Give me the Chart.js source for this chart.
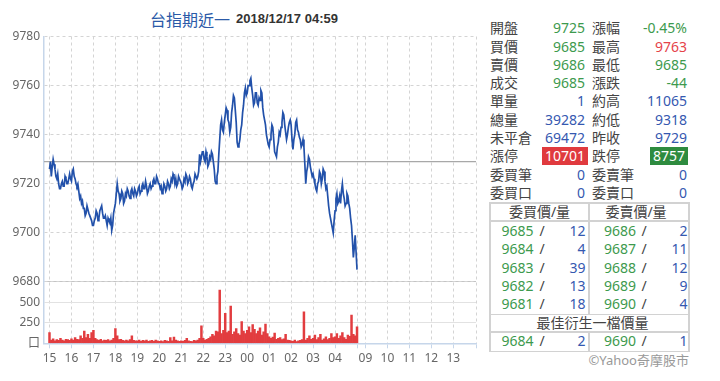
<!DOCTYPE html>
<html><head><meta charset="utf-8">
<script src="https://cdn.jsdelivr.net/npm/chart.js@4/dist/chart.umd.min.js"></script>
<style>
body{margin:0;background:#fff;width:720px;height:381px;overflow:hidden;position:relative;font-family:"Noto Sans","Noto Sans CJK TC",sans-serif;}
#wrap{position:absolute;left:0;top:0;width:480px;height:381px;}
.t{position:absolute;white-space:nowrap;height:18px;line-height:18px;font-size:14px;}
.lab{color:#444;}
.g{color:#3d9a4e;}
.b{color:#3558b0;}
.r{color:#e5434a;}
.box{display:inline-block;color:#fff;padding:0 3px;line-height:18px;height:18px;}
.ln{position:absolute;background:#d2d2d2;}
</style></head>
<body>
<div class="t" style="left:150px;top:8px;height:22px;line-height:22px;font-size:16px;color:#2b5aa8;font-family:'Noto Sans CJK TC',sans-serif;">台指期近一</div>
<div class="t" style="left:236px;top:9px;height:20px;line-height:20px;font-size:13px;color:#333;font-weight:bold;font-family:'Liberation Sans',Arial,sans-serif;">2018/12/17 04:59</div>
<div id="wrap"><canvas id="c" width="480" height="381"></canvas></div>
<div id="panel"></div>
<script>
// ---- data ----
const stepMinutes = 2.5;
const prevClose = 9729;
const price = [
 9726,9729,9723,9727,9730,9728,9726,9723,9722,9724,9720,9718,9718,9720,9721,9719,9719,9723,9722,9720,9720,9722,9724,9722,
 9721,9725,9726,9723,9722,9720,9719,9720,9717,9714,9715,9712,9713,9710,9710,9707,9708,9711,9711,9708,9707,9706,9705,9703,
 9703,9705,9706,9709,9708,9705,9706,9709,9710,9711,9708,9706,9706,9707,9705,9703,9706,9705,9704,9706,9701,9703,9708,9710,
 9712,9716,9720,9717,9716,9713,9714,9717,9716,9712,9713,9716,9715,9718,9717,9715,9714,9717,9718,9716,9715,9718,9717,9715,
 9716,9718,9719,9716,9717,9719,9720,9718,9718,9721,9719,9716,9717,9719,9720,9718,9719,9721,9722,9720,9720,9723,9722,9720,
 9720,9718,9719,9716,9717,9720,9719,9717,9718,9721,9720,9718,9719,9722,9721,9724,9723,9720,9722,9719,9720,9723,9722,9721,
 9720,9718,9719,9722,9721,9724,9723,9720,9721,9723,9722,9719,9718,9720,9721,9724,9724,9722,9723,9725,9732,9729,9731,9733,
 9733,9730,9729,9733,9731,9727,9728,9731,9730,9733,9732,9729,9726,9721,9720,9723,9725,9732,9738,9744,9746,9742,9741,9745,
 9748,9751,9750,9746,9745,9741,9743,9749,9752,9756,9755,9750,9745,9737,9735,9736,9738,9742,9744,9749,9752,9757,9759,9756,
 9757,9760,9760,9762,9763,9759,9756,9752,9753,9757,9757,9753,9752,9755,9754,9758,9757,9751,9748,9746,9744,9740,9738,9736,
 9735,9738,9740,9744,9743,9738,9733,9732,9731,9735,9737,9741,9740,9743,9745,9749,9748,9744,9741,9738,9740,9743,9745,9746,
 9744,9738,9734,9738,9740,9745,9746,9742,9741,9739,9738,9735,9736,9738,9735,9728,9720,9725,9727,9731,9730,9727,9725,9723,
 9724,9722,9720,9718,9717,9720,9721,9725,9724,9720,9722,9726,9725,9721,9718,9719,9715,9711,9708,9706,9704,9702,9700,9705,
 9709,9714,9716,9712,9713,9715,9712,9717,9720,9716,9714,9711,9712,9716,9715,9712,9710,9706,9703,9697,9690,9694,9699,9692,
 9685
];
const volStepMinutes = 5;
const volume = [
 130,40,55,30,45,35,60,40,30,50,45,35,
 55,40,70,50,45,90,60,150,70,110,60,130,
 160,60,45,35,50,30,40,35,45,30,40,60,
 180,90,45,50,35,30,40,30,45,90,35,30,
 30,40,25,35,30,40,25,30,35,25,40,30,
 25,30,20,35,30,25,70,30,75,40,30,25,
 30,25,35,60,30,25,20,35,30,40,60,215,
 60,40,50,60,80,110,90,150,140,650,120,160,
 365,130,150,455,110,140,180,120,100,265,150,120,
 160,200,130,230,170,120,150,190,100,140,235,120,
 80,60,75,125,50,60,70,45,55,110,40,35,
 30,25,40,20,30,35,45,385,40,60,90,50,
 60,100,45,70,110,40,55,80,45,60,120,70,
 80,120,60,90,130,70,50,100,85,345,110,90,
 200
];
const xTickVals = [0,60,120,180,240,300,360,420,480,540,600,660,720,780,840,863,923,983,1043,1103,1165];
const xTickLabels = ['15','16','17','18','19','20','21','22','23','00','01','02','03','04','','09','10','11','12','13',''];
const xMin = -15, xMax = 1165;
const priceTicks = {min:9680, max:9780, step:20};
const volTicks = {min:0, max:750, step:250};

const infoRows = [
 ['開盤','9725','g','漲幅','-0.45%','g'],
 ['買價','9685','g','最高','9763','r'],
 ['賣價','9686','g','最低','9685','g'],
 ['成交','9685','g','漲跌','-44','g'],
 ['單量','1','b','約高','11065','b'],
 ['總量','39282','b','約低','9318','b'],
 ['未平倉','69472','b','昨收','9729','b'],
 ['漲停','10701','boxr','跌停','8757','boxg'],
 ['委買筆','0','b','委賣筆','0','b'],
 ['委買口','0','b','委賣口','0','b']
];
const bidPrices = [9685,9684,9683,9682,9681];
const bidQty = [12,4,39,13,18];
const askPrices = [9686,9687,9688,9689,9690];
const askQty = [2,11,12,9,4];
const bestBid = [9684,2];
const bestAsk = [9690,1];

// ---- chart ----
Chart.defaults.font.family = '"Noto Sans","Noto Sans CJK TC",sans-serif';
const linePts = price.map((v,i)=>({x:i*stepMinutes, y:v}));
const volPts = volume.map((v,i)=>({x:i*volStepMinutes, y:v}));
const chart = new Chart(document.getElementById('c'), {
  type:'line',
  data:{datasets:[
    {type:'line', data:linePts, xAxisID:'x', yAxisID:'yp', borderColor:'#2251aa', borderWidth:1.7, pointRadius:0, tension:0, fill:false},
    {type:'line', data:[{x:xMin,y:prevClose},{x:xMax,y:prevClose}], xAxisID:'x', yAxisID:'yp', borderColor:'#a8a8a8', borderWidth:1.2, pointRadius:0, fill:false},
    {type:'bar', data:volPts, xAxisID:'x', yAxisID:'yv', backgroundColor:'#e23c3f', borderWidth:0, barPercentage:1, categoryPercentage:1, grouped:false}
  ]},
  options:{
    responsive:false, animation:false,
    layout:{padding:{top:36.5,right:4,bottom:12.3,left:0}},
    plugins:{legend:{display:false}, tooltip:{enabled:false}},
    scales:{
      x:{type:'linear', position:'bottom', min:xMin, max:xMax, offset:false,
         afterBuildTicks:s=>{s.ticks = xTickVals.map(v=>({value:v}));},
         ticks:{autoSkip:false, maxRotation:0, padding:3, color:'#666', font:{size:12}, callback:(v,i)=>xTickLabels[i]},
         grid:{offset:false, color:'#d4d4d4', tickColor:'#c6d6ea', tickLength:5, drawTicks:true},
         border:{color:'#c6d6ea', width:1.5, dash:[3,3]}},
      yv:{type:'linear', position:'left', stack:'s', stackWeight:1, min:volTicks.min, max:volTicks.max,
         afterFit:s=>{s.width=44;},
         ticks:{stepSize:volTicks.step, autoSkip:false, padding:4, color:'#666', font:{size:12},
                callback:v=> v===0 ? '口' : (v===volTicks.max ? '' : String(v))},
         grid:{color:c=> c.tick && c.tick.value===volTicks.max ? '#c4c4c4' : '#e2e2e2', drawTicks:false},
         border:{color:'#c6d6ea', width:1.5}},
      yp:{type:'linear', position:'left', stack:'s', stackWeight:4, min:priceTicks.min, max:priceTicks.max,
         afterFit:s=>{s.width=44;},
         ticks:{stepSize:priceTicks.step, autoSkip:false, padding:4, color:'#666', font:{size:12}, callback:v=>String(v)},
         grid:{color:'#d4d4d4', drawTicks:false},
         border:{color:'#c6d6ea', width:1.5, dash:[3,3]}}
    }
  }
});

// ---- right panel ----
const panel = document.getElementById('panel');
function add(html, style, cls){
  const d=document.createElement('div'); d.className='t '+(cls||''); d.innerHTML=html; d.setAttribute('style',style); panel.appendChild(d); return d;
}
function line(x,y,w,h){const d=document.createElement('div');d.className='ln';d.setAttribute('style',`left:${x}px;top:${y}px;width:${w}px;height:${h}px;`);panel.appendChild(d);}
infoRows.forEach((r,i)=>{
  const top = 19.2 + i*18.3;
  add(r[0], `left:490px;top:${top}px;`, 'lab');
  const v1 = r[2]==='boxr' ? `<span class="box" style="background:#e03a3e">${r[1]}</span>` : r[1];
  add(v1, `left:480px;top:${top}px;width:${r[2]==='boxr'?108:105}px;text-align:right;`, r[2].startsWith('box')?'':r[2]);
  add(r[3], `left:592px;top:${top}px;`, 'lab');
  const v2 = r[5]==='boxg' ? `<span class="box" style="background:#2e8b3f">${r[4]}</span>` : r[4];
  add(v2, `left:590px;top:${top}px;width:${r[5]==='boxg'?98:97}px;text-align:right;`, r[5].startsWith('box')?'':r[5]);
});
line(489,202,201,1.6); line(489,350.5,201,1.6);
line(489,202,1.6,150); line(688.4,202,1.6,150);
line(489,220,201,1.6); line(489,313.5,201,1.6); line(489,331,201,1.6);
line(588.2,202,1.6,112); line(588.2,331,1.6,20);
add('委買價/量','left:490px;top:202.5px;width:99px;text-align:center;','lab');
add('委賣價/量','left:589px;top:202.5px;width:94px;text-align:center;','lab');
bidPrices.forEach((p,i)=>{
  const top = 222 + i*18.3;
  add(String(p), `left:501.5px;top:${top}px;`, 'g');
  add('/', `left:537px;top:${top}px;width:10px;text-align:center;`, 'lab');
  add(String(bidQty[i]), `left:545px;top:${top}px;width:40.5px;text-align:right;`, 'b');
  add(String(askPrices[i]), `left:604px;top:${top}px;`, 'g');
  add('/', `left:639px;top:${top}px;width:10px;text-align:center;`, 'lab');
  add(String(askQty[i]), `left:650px;top:${top}px;width:37.5px;text-align:right;`, 'b');
});
add('最佳衍生一檔價量','left:490px;top:313.5px;width:205px;text-align:center;','lab');
add(String(bestBid[0]), 'left:501.5px;top:331.8px;', 'g');
add('/', 'left:537px;top:331.8px;width:10px;text-align:center;', 'lab');
add(String(bestBid[1]), 'left:545px;top:331.8px;width:40.5px;text-align:right;', 'b');
add(String(bestAsk[0]), 'left:604px;top:331.8px;', 'g');
add('/', 'left:639px;top:331.8px;width:10px;text-align:center;', 'lab');
add(String(bestAsk[1]), 'left:650px;top:331.8px;width:37.5px;text-align:right;', 'b');
add('©Yahoo奇摩股市','left:580px;top:351px;width:109px;text-align:right;font-size:13px;color:#999;');
</script>
</body></html>
